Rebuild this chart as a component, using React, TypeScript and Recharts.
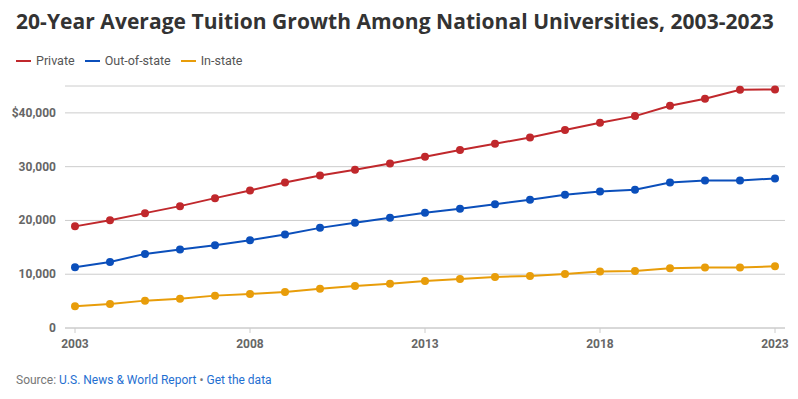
import React from "react";
import { LineChart, Line, XAxis, YAxis, CartesianGrid } from "recharts";

// Average tuition by year (USD)
const years = [
  2003, 2004, 2005, 2006, 2007, 2008, 2009, 2010, 2011, 2012, 2013, 2014,
  2015, 2016, 2017, 2018, 2019, 2020, 2021, 2022, 2023,
];
const privateTuition = [
  18900, 20050, 21360, 22660, 24150, 25570, 27060, 28360, 29420, 30600,
  31840, 33090, 34260, 35440, 36800, 38170, 39400, 41340, 42640, 44320, 44340,
];
const outOfState = [
  11300, 12290, 13780, 14580, 15400, 16330, 17380, 18620, 19550, 20480,
  21420, 22160, 23030, 23840, 24770, 25390, 25700, 27060, 27440, 27440, 27800,
];
const inState = [
  4040, 4470, 5090, 5460, 6020, 6330, 6700, 7320, 7820, 8250, 8750, 9120,
  9500, 9680, 10060, 10490, 10610, 11110, 11230, 11230, 11490,
];
const xTicks = [2003, 2008, 2013, 2018, 2023];
const yTicks = [0, 10000, 20000, 30000, 40000];

const series = [
  { key: "private", label: "Private", color: "#c0282c" },
  { key: "outOfState", label: "Out-of-state", color: "#0b4fbb" },
  { key: "inState", label: "In-state", color: "#e89d0a" },
];

const chartData = years.map((year, i) => ({
  year,
  private: privateTuition[i],
  outOfState: outOfState[i],
  inState: inState[i],
}));

const YTick = ({ y, payload }: any) => {
  const v = payload.value as number;
  const label = v === 40000 ? "$40,000" : v.toLocaleString("en-US");
  return (
    <text
      x={56}
      y={y}
      dy={4}
      textAnchor="end"
      fill="#666"
      fontSize={12}
      fontWeight={700}
      fontFamily="Roboto"
    >
      {label}
    </text>
  );
};

const XTick = ({ x, y, payload }: any) => (
  <text
    x={x}
    y={y}
    dy={13}
    textAnchor="middle"
    fill="#666"
    fontSize={12}
    fontWeight={700}
    fontFamily="Roboto"
  >
    {payload.value}
  </text>
);

export default function App() {
  return (
    <div
      style={{
        position: "absolute",
        left: 0,
        top: 0,
        width: 798,
        height: 399,
        background: "#fff",
        fontFamily: "Roboto",
      }}
    >
      <div
        style={{
          position: "absolute",
          left: 16,
          top: 7,
          fontFamily: "'Open Sans'",
          fontWeight: 700,
          fontSize: 21,
          letterSpacing: 0.05,
          color: "#333",
          whiteSpace: "nowrap",
        }}
      >
        20-Year Average Tuition Growth Among National Universities, 2003-2023
      </div>

      {/* Legend */}
      <div
        style={{
          position: "absolute",
          left: 16,
          top: 53,
          display: "flex",
          gap: 10,
          fontSize: 12.5,
          color: "#555",
        }}
      >
        {series.map((s) => (
          <div key={s.key} style={{ display: "flex", alignItems: "center" }}>
            <span
              style={{
                display: "inline-block",
                width: 15,
                height: 2,
                background: s.color,
                marginRight: 5,
              }}
            />
            {s.label}
          </div>
        ))}
      </div>

      <div style={{ position: "absolute", left: 0, top: 0 }}>
        <LineChart
          width={798}
          height={399}
          data={chartData}
          margin={{ top: 86, right: 13, left: 0, bottom: 0 }}
        >
          <CartesianGrid vertical={false} stroke="#ccc" />
          <XAxis
            dataKey="year"
            type="number"
            domain={[2003, 2023]}
            ticks={xTicks}
            padding={{ left: 10, right: 10 }}
            stroke="#ccc"
            tickSize={5}
            tick={<XTick />}
            height={71}
          />
          <YAxis
            domain={[0, 45000]}
            ticks={yTicks}
            width={65}
            axisLine={false}
            tickLine={false}
            tick={<YTick />}
          />
          {series.map((s) => (
            <Line
              key={s.key}
              dataKey={s.key}
              stroke={s.color}
              strokeWidth={2}
              dot={{ r: 4, fill: s.color, stroke: s.color, strokeWidth: 0 }}
              activeDot={false}
              isAnimationActive={false}
            />
          ))}
        </LineChart>
      </div>

      <div
        style={{
          position: "absolute",
          left: 16,
          top: 373,
          fontSize: 12,
          color: "#777",
        }}
      >
        Source: <span style={{ color: "#1f6fd1" }}>U.S. News &amp; World Report</span>{" "}
        • <span style={{ color: "#1f6fd1" }}>Get the data</span>
      </div>
    </div>
  );
}
